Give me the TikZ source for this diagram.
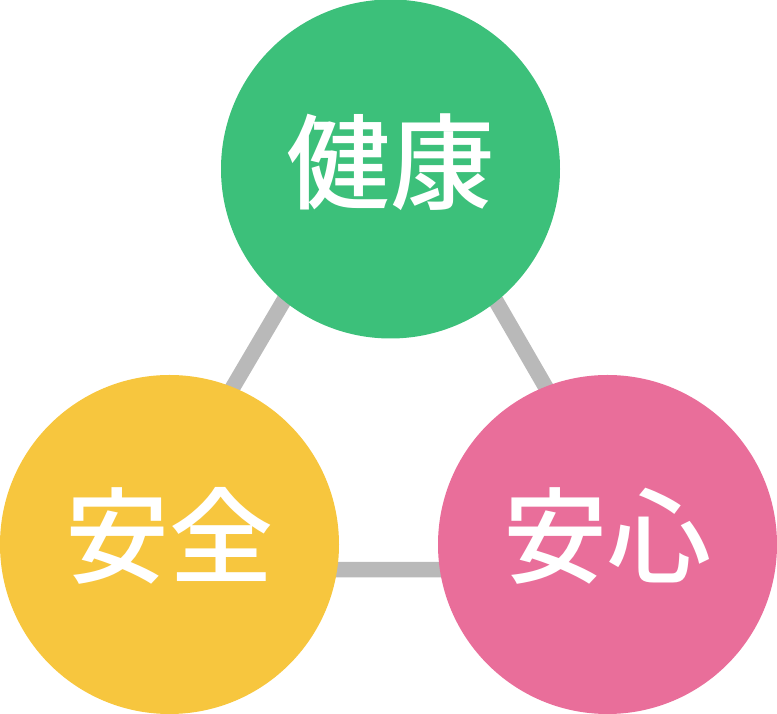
\documentclass[tikz,border=0pt]{standalone}
\usepackage{fontspec}
\usetikzlibrary{backgrounds,calc}
\newfontfamily\cjk{Noto Sans CJK JP}[UprightFont=* Medium]
\definecolor{kenkoGreen}{HTML}{3CC07A}
\definecolor{anzenYellow}{HTML}{F7C63E}
\definecolor{anshinPink}{HTML}{E96E9A}
\definecolor{linkGray}{HTML}{B9B9B9}
\tikzset{
    ball/.style={circle, minimum size=339pt, inner sep=0pt},
    word/.style={inner sep=0pt, text=white, font=\cjk\fontsize{104}{110}\selectfont},
    link/.style={draw=linkGray, line width=15.5pt}
}
\begin{document}
\begin{tikzpicture}[x=1pt, y=1pt]
    \useasboundingbox (0,0) rectangle (777,714);
    % circles
    \node[ball, fill=kenkoGreen] (kenko) at (390.5,545) {};
    \node[ball, fill=anzenYellow] (anzen) at (169.5,169.5) {};
    \node[ball, fill=anshinPink] (anshin) at (607.5,169.5) {};
    % words, a little above the middle
    \node[word] (kenkoText) at ([yshift=7pt]kenko.center) {健康};
    \node[word] (anzenText) at ([yshift=9pt]anzen.center) {安全};
    \node[word] (anshinText) at ([yshift=9pt]anshin.center) {安心};
    % corners of the gray triangle, pushed out from the middle
    \coordinate (mid) at (389.2,294.7);
    \coordinate (kenkoC) at ($(mid)!1.2!(kenko)$);
    \coordinate (anzenC) at ($(mid)!1.2!(anzen)$);
    \coordinate (anshinC) at ($(mid)!1.2!(anshin)$);
    % links between them, behind the circles
    \begin{scope}[on background layer]
        \draw[link] (kenkoC) -- (anzenC) -- (anshinC) -- cycle;
    \end{scope}
\end{tikzpicture}
\end{document}
